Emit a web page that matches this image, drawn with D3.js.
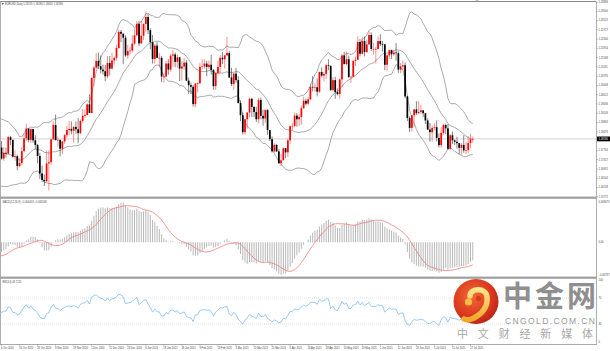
<!DOCTYPE html>
<html>
<head>
<meta charset="utf-8">
<script src="https://cdn.jsdelivr.net/npm/d3@7"></script>
<style>
html, body { margin: 0; padding: 0; background: #fff; }
svg { display: block; font-family: "Liberation Sans", Arial, sans-serif; }
</style>
</head>
<body>
<svg width="610" height="351"></svg>
<script>
// closes before the first visible bar (3 Aug - 5 Oct 2020), only used to warm up the indicators
var preClose = [
  1.1764, 1.1799, 1.1853, 1.1876, 1.1786, 1.1737, 1.1738, 1.1785, 1.1812, 1.1843, 1.1870,
  1.1931, 1.1836, 1.1857, 1.1797, 1.1793, 1.1833, 1.1829, 1.1821, 1.1903, 1.1937,
  1.1912, 1.1853, 1.1851, 1.1838, 1.1817, 1.1778, 1.1802, 1.1812, 1.1845, 1.1864, 1.1845,
  1.1815, 1.1847, 1.1838, 1.1771, 1.1701, 1.1660, 1.1671, 1.1632, 1.1665, 1.1745, 1.1721,
  1.1746, 1.1715, 1.1781
]

// EURUSD daily, 6 Oct 2020 - 28 Jul 2021: [open, high, low, close]
var candles = [
  // Oct
  [1.1782, 1.1809, 1.1732, 1.1736], [1.1736, 1.1784, 1.1727, 1.1760], [1.1760, 1.1782, 1.1740, 1.1757],
  [1.1757, 1.1831, 1.1752, 1.1825], [1.1825, 1.1830, 1.1792, 1.1814], [1.1814, 1.1815, 1.1740, 1.1744],
  [1.1744, 1.1770, 1.1727, 1.1746], [1.1746, 1.1752, 1.1688, 1.1705], [1.1705, 1.1738, 1.1700, 1.1717],
  [1.1717, 1.1785, 1.1708, 1.1767], [1.1767, 1.1841, 1.1762, 1.1820], [1.1820, 1.1881, 1.1810, 1.1861],
  [1.1861, 1.1862, 1.1804, 1.1814], [1.1814, 1.1860, 1.1801, 1.1859], [1.1859, 1.1860, 1.1802, 1.1812],
  [1.1812, 1.1833, 1.1776, 1.1793], [1.1793, 1.1797, 1.1716, 1.1747], [1.1747, 1.1760, 1.1651, 1.1674],
  [1.1674, 1.1707, 1.1639, 1.1647],
  // Nov
  [1.1647, 1.1670, 1.1622, 1.1641], [1.1641, 1.1770, 1.1641, 1.1716], [1.1716, 1.1770, 1.1603, 1.1721],
  [1.1721, 1.1818, 1.1710, 1.1816], [1.1816, 1.1891, 1.1816, 1.1876], [1.1876, 1.1920, 1.1812, 1.1813],
  [1.1813, 1.1828, 1.1786, 1.1814], [1.1814, 1.1815, 1.1745, 1.1777], [1.1777, 1.1808, 1.1755, 1.1808],
  [1.1808, 1.1838, 1.1797, 1.1834], [1.1834, 1.1872, 1.1822, 1.1855], [1.1855, 1.1893, 1.1833, 1.1860],
  [1.1860, 1.1891, 1.1837, 1.1852], [1.1852, 1.1872, 1.1802, 1.1868], [1.1868, 1.1891, 1.1840, 1.1858],
  [1.1858, 1.1905, 1.1800, 1.1842], [1.1842, 1.1900, 1.1838, 1.1893], [1.1893, 1.1942, 1.1885, 1.1914],
  [1.1914, 1.1941, 1.1906, 1.1918], [1.1918, 1.1966, 1.1915, 1.1962], [1.1962, 1.2004, 1.1925, 1.1926],
  // Dec
  [1.1926, 1.2077, 1.1924, 1.2072], [1.2072, 1.2122, 1.2040, 1.2115], [1.2115, 1.2176, 1.2111, 1.2143],
  [1.2143, 1.2178, 1.2109, 1.2121], [1.2121, 1.2166, 1.2091, 1.2107], [1.2107, 1.2128, 1.2086, 1.2100],
  [1.2100, 1.2126, 1.2058, 1.2079], [1.2079, 1.2163, 1.2071, 1.2134], [1.2134, 1.2163, 1.2082, 1.2111],
  [1.2111, 1.2177, 1.2108, 1.2145], [1.2145, 1.2160, 1.2127, 1.2156], [1.2156, 1.2211, 1.2145, 1.2197],
  [1.2197, 1.2273, 1.2192, 1.2264], [1.2264, 1.2272, 1.2221, 1.2256], [1.2256, 1.2260, 1.2130, 1.2240],
  [1.2240, 1.2250, 1.2160, 1.2166], [1.2166, 1.2210, 1.2153, 1.2184], [1.2184, 1.2200, 1.2168, 1.2186],
  [1.2186, 1.2250, 1.2178, 1.2215], [1.2215, 1.2276, 1.2208, 1.2250], [1.2250, 1.2310, 1.2245, 1.2297],
  [1.2297, 1.2310, 1.2205, 1.2216],
  // Jan
  [1.2216, 1.2309, 1.2215, 1.2248], [1.2248, 1.2300, 1.2230, 1.2297], [1.2297, 1.2349, 1.2265, 1.2326],
  [1.2326, 1.2339, 1.2255, 1.2271], [1.2271, 1.2279, 1.2192, 1.2221], [1.2221, 1.2251, 1.2132, 1.2151],
  [1.2151, 1.2214, 1.2132, 1.2207], [1.2207, 1.2222, 1.2154, 1.2156], [1.2156, 1.2176, 1.2118, 1.2156],
  [1.2156, 1.2164, 1.2054, 1.2078], [1.2078, 1.2092, 1.2053, 1.2078], [1.2078, 1.2144, 1.2076, 1.2132],
  [1.2132, 1.2150, 1.2086, 1.2107], [1.2107, 1.2173, 1.2098, 1.2165], [1.2165, 1.2189, 1.2119, 1.2170],
  [1.2170, 1.2178, 1.2117, 1.2139], [1.2139, 1.2169, 1.2115, 1.2158], [1.2158, 1.2160, 1.2059, 1.2111],
  [1.2111, 1.2143, 1.2061, 1.2120], [1.2120, 1.2155, 1.2106, 1.2136],
  // Feb
  [1.2136, 1.2147, 1.2058, 1.2061], [1.2061, 1.2074, 1.2006, 1.2042], [1.2042, 1.2053, 1.2005, 1.2035],
  [1.2035, 1.2043, 1.1952, 1.1963], [1.1963, 1.2051, 1.1950, 1.2049], [1.2049, 1.2054, 1.2012, 1.2050],
  [1.2050, 1.2134, 1.2046, 1.2118], [1.2118, 1.2150, 1.2108, 1.2120], [1.2120, 1.2150, 1.2111, 1.2132],
  [1.2132, 1.2144, 1.2079, 1.2118], [1.2118, 1.2145, 1.2108, 1.2127], [1.2127, 1.2169, 1.2086, 1.2105],
  [1.2105, 1.2109, 1.2023, 1.2038], [1.2038, 1.2093, 1.2022, 1.2093], [1.2093, 1.2144, 1.2086, 1.2118],
  [1.2118, 1.2168, 1.2091, 1.2156], [1.2156, 1.2180, 1.2130, 1.2150], [1.2150, 1.2168, 1.2111, 1.2166],
  [1.2166, 1.2243, 1.2165, 1.2176], [1.2176, 1.2184, 1.2072, 1.2074],
  // Mar
  [1.2074, 1.2114, 1.2038, 1.2047], [1.2047, 1.2093, 1.2023, 1.2090], [1.2090, 1.2114, 1.2052, 1.2063],
  [1.2063, 1.2079, 1.1965, 1.1968], [1.1968, 1.1979, 1.1892, 1.1917], [1.1917, 1.1929, 1.1836, 1.1846],
  [1.1846, 1.1901, 1.1835, 1.1900], [1.1900, 1.1929, 1.1861, 1.1928], [1.1928, 1.1990, 1.1908, 1.1985],
  [1.1985, 1.1989, 1.1910, 1.1951], [1.1951, 1.1955, 1.1908, 1.1930], [1.1930, 1.1952, 1.1888, 1.1900],
  [1.1900, 1.1989, 1.1883, 1.1980], [1.1980, 1.1990, 1.1900, 1.1914], [1.1914, 1.1940, 1.1873, 1.1903],
  [1.1903, 1.1942, 1.1884, 1.1938], [1.1938, 1.1942, 1.1835, 1.1855], [1.1855, 1.1855, 1.1809, 1.1817],
  [1.1817, 1.1829, 1.1761, 1.1766], [1.1766, 1.1800, 1.1762, 1.1793], [1.1793, 1.1797, 1.1763, 1.1766],
  [1.1766, 1.1775, 1.1713, 1.1717], [1.1717, 1.1755, 1.1704, 1.1729],
  // Apr
  [1.1729, 1.1782, 1.1729, 1.1779], [1.1779, 1.1780, 1.1738, 1.1762], [1.1762, 1.1820, 1.1743, 1.1812],
  [1.1812, 1.1874, 1.1798, 1.1871], [1.1871, 1.1885, 1.1853, 1.1872], [1.1872, 1.1928, 1.1866, 1.1915],
  [1.1915, 1.1926, 1.1869, 1.1900], [1.1900, 1.1922, 1.1872, 1.1910], [1.1910, 1.1957, 1.1877, 1.1946],
  [1.1946, 1.1994, 1.1943, 1.1977], [1.1977, 1.1986, 1.1957, 1.1965], [1.1965, 1.1993, 1.1958, 1.1983],
  [1.1983, 1.2048, 1.1980, 1.2035], [1.2035, 1.2080, 1.2016, 1.2033], [1.2033, 1.2050, 1.2015, 1.2033],
  [1.2033, 1.2070, 1.1995, 1.2015], [1.2015, 1.2098, 1.2009, 1.2097], [1.2097, 1.2116, 1.2074, 1.2082],
  [1.2082, 1.2095, 1.2057, 1.2089], [1.2089, 1.2132, 1.2068, 1.2125], [1.2125, 1.2150, 1.2104, 1.2122],
  [1.2122, 1.2125, 1.2017, 1.2022],
  // May
  [1.2022, 1.2075, 1.2015, 1.2063], [1.2063, 1.2077, 1.1985, 1.2013], [1.2013, 1.2029, 1.1999, 1.2005],
  [1.2005, 1.2071, 1.1985, 1.2066], [1.2066, 1.2172, 1.2034, 1.2165], [1.2165, 1.2181, 1.2128, 1.2130],
  [1.2130, 1.2182, 1.2124, 1.2150], [1.2150, 1.2165, 1.2072, 1.2076], [1.2076, 1.2082, 1.2052, 1.2077],
  [1.2077, 1.2147, 1.2075, 1.2143], [1.2143, 1.2161, 1.2122, 1.2148], [1.2148, 1.2245, 1.2148, 1.2222],
  [1.2222, 1.2234, 1.2162, 1.2173], [1.2173, 1.2244, 1.2170, 1.2226], [1.2226, 1.2245, 1.2162, 1.2180],
  [1.2180, 1.2232, 1.2176, 1.2212], [1.2212, 1.2266, 1.2210, 1.2251], [1.2251, 1.2262, 1.2185, 1.2193],
  [1.2193, 1.2218, 1.2170, 1.2193], [1.2193, 1.2202, 1.2133, 1.2193], [1.2193, 1.2244, 1.2190, 1.2226],
  // Jun
  [1.2226, 1.2254, 1.2205, 1.2213], [1.2213, 1.2226, 1.2182, 1.2212], [1.2212, 1.2214, 1.2104, 1.2127],
  [1.2127, 1.2170, 1.2102, 1.2166], [1.2166, 1.2190, 1.2152, 1.2188], [1.2188, 1.2190, 1.2151, 1.2171],
  [1.2171, 1.2190, 1.2164, 1.2178], [1.2178, 1.2218, 1.2144, 1.2175], [1.2175, 1.2183, 1.2093, 1.2107],
  [1.2107, 1.2134, 1.2092, 1.2120], [1.2120, 1.2145, 1.2105, 1.2125], [1.2125, 1.2137, 1.1987, 1.1995],
  [1.1995, 1.1998, 1.1892, 1.1905], [1.1905, 1.1912, 1.1847, 1.1864], [1.1864, 1.1917, 1.1848, 1.1916],
  [1.1916, 1.1941, 1.1870, 1.1941], [1.1941, 1.1975, 1.1917, 1.1925], [1.1925, 1.1975, 1.1924, 1.1930],
  [1.1930, 1.1960, 1.1923, 1.1937], [1.1937, 1.1938, 1.1910, 1.1925], [1.1925, 1.1925, 1.1880, 1.1895],
  [1.1895, 1.1904, 1.1856, 1.1857],
  // Jul
  [1.1857, 1.1885, 1.1807, 1.1846], [1.1846, 1.1874, 1.1806, 1.1864], [1.1864, 1.1883, 1.1853, 1.1867],
  [1.1867, 1.1895, 1.1807, 1.1822], [1.1822, 1.1841, 1.1782, 1.1792], [1.1792, 1.1868, 1.1781, 1.1843],
  [1.1843, 1.1880, 1.1835, 1.1876], [1.1876, 1.1881, 1.1838, 1.1862], [1.1862, 1.1880, 1.1772, 1.1777],
  [1.1777, 1.1839, 1.1772, 1.1833], [1.1833, 1.1849, 1.1797, 1.1812], [1.1812, 1.1816, 1.1792, 1.1806],
  [1.1806, 1.1827, 1.1777, 1.1800], [1.1800, 1.1801, 1.1755, 1.1781], [1.1781, 1.1800, 1.1752, 1.1793],
  [1.1793, 1.1833, 1.1760, 1.1770], [1.1770, 1.1805, 1.1755, 1.1771], [1.1771, 1.1829, 1.1760, 1.1801],
  [1.1801, 1.1840, 1.1780, 1.1817], [1.1817, 1.1828, 1.1802, 1.1818]
]

var holidays = ["2020-12-25", "2021-01-01"]

var dateTicks = ["6 Oct 2020", "16 Oct 2020", "28 Oct 2020", "9 Nov 2020", "19 Nov 2020",
  "1 Dec 2020", "11 Dec 2020", "23 Dec 2020", "6 Jan 2021", "18 Jan 2021", "28 Jan 2021",
  "9 Feb 2021", "19 Feb 2021", "3 Mar 2021", "15 Mar 2021", "25 Mar 2021", "6 Apr 2021",
  "16 Apr 2021", "28 Apr 2021", "10 May 2021", "20 May 2021", "1 Jun 2021", "11 Jun 2021",
  "23 Jun 2021", "5 Jul 2021", "15 Jul 2021", "27 Jul 2021"]

var priceTicks = [1.23886, 1.23500, 1.23113, 1.22727, 1.22340, 1.21954, 1.21568, 1.21181,
  1.20795, 1.20408, 1.20022, 1.19636, 1.19249, 1.18863, 1.18476, 1.17704, 1.17317,
  1.16931, 1.16544, 1.16158, 1.15772]

var rsiTicks = [100, 70, 30, 0]
var rsiLevels = [70, 30]


var svg = d3.select("svg")
var plotRight = 596
var axisColor = "#444"

// trading calendar for the visible candles
var dayKey = d3.timeFormat("%Y-%m-%d")
var dates = d3.timeDays(new Date(2020, 9, 6), new Date(2021, 6, 29))
  .filter(d => d.getDay() % 6 != 0 && holidays.indexOf(dayKey(d)) < 0)
var dateLabel = d3.timeFormat("%-d %b %Y")
var dateNames = dates.map(dateLabel)

// scales
var x = d3.scaleLinear().domain([0, 208]).range([1.5, 470.5])
var yPrice = d3.scaleLinear().domain([1.1603, 1.2349]).range([190.5, 11.5])
var yRsi = d3.scaleLinear().domain([0, 100]).range([343.5, 278.5])

// ---- indicators, computed over the warm-up closes + visible closes
var closes = preClose.concat(candles.map(d => d[3]))
var off = preClose.length

var bands = []
for (var i = off - 1; i < closes.length; i++) {
  var win = closes.slice(i - 19, i + 1)
  var m = d3.mean(win)
  var sd = Math.sqrt(d3.mean(win, v => (v - m) * (v - m)))
  bands.push({i: i - off, mid: m, up: m + 2 * sd, lo: m - 2 * sd})
}

function ema(arr, n) {
  var k = 2 / (n + 1), out = [arr[0]]
  for (var j = 1; j < arr.length; j++) out.push(arr[j] * k + out[j - 1] * (1 - k))
  return out
}
var e12 = ema(closes, 12), e26 = ema(closes, 26)
var macdMain = closes.map((c, j) => e12[j] - e26[j])
var macdRows = []
for (i = off - 1; i < closes.length; i++) {
  macdRows.push({i: i - off, main: macdMain[i], signal: d3.mean(macdMain.slice(i - 8, i + 1))})
}

var rsiVals = new Array(closes.length).fill(null)
var gain = 0, loss = 0, n = 14
for (i = 1; i <= n; i++) {
  var dd = closes[i] - closes[i - 1]
  if (dd > 0) gain += dd; else loss -= dd
}
gain /= n; loss /= n
rsiVals[n] = 100 - 100 / (1 + gain / loss)
for (i = n + 1; i < closes.length; i++) {
  dd = closes[i] - closes[i - 1]
  gain = (gain * (n - 1) + Math.max(dd, 0)) / n
  loss = (loss * (n - 1) + Math.max(-dd, 0)) / n
  rsiVals[i] = loss == 0 ? 100 : 100 - 100 / (1 + gain / loss)
}
var rsiRows = []
for (i = off - 1; i < closes.length; i++) rsiRows.push({i: i - off, v: rsiVals[i]})

// MACD window follows the visible min / max
var macdVis = macdRows.filter(d => d.i >= 0)
var mMin = d3.min(macdVis, d => Math.min(d.main, d.signal))
var mMax = d3.max(macdVis, d => Math.max(d.main, d.signal))
var yMacd = d3.scaleLinear().domain([mMin, mMax]).range([275, 202.5])

// ---- clip regions for the three windows
var defs = svg.append("defs")
function clip(id, y0, y1) {
  defs.append("clipPath").attr("id", id).append("rect")
    .attr("x", 0).attr("y", y0).attr("width", plotRight).attr("height", y1 - y0)
}
clip("clipMain", 2, 196.5)
clip("clipMacd", 199, 276.5)
clip("clipRsi", 279, 344)

// ---- main window
var gMain = svg.append("g").attr("clip-path", "url(#clipMain)")

var last = candles[candles.length - 1]
gMain.append("line")
  .attr("x1", 0).attr("x2", plotRight)
  .attr("y1", yPrice(last[3])).attr("y2", yPrice(last[3]))
  .attr("stroke", "#c8c8c8").attr("stroke-width", 0.8)

var bandLine = key => d3.line().x(d => x(d.i)).y(d => yPrice(d[key]))
;["up", "mid", "lo"].forEach(function(key) {
  gMain.append("path")
    .datum(bands)
    .attr("d", bandLine(key))
    .attr("fill", "none")
    .attr("stroke", "#8e8e8e")
    .attr("stroke-width", 0.75)
})

var bull = d => d[3] >= d[0]
gMain.selectAll(".wick").data(candles).enter().append("line")
  .attr("class", "wick")
  .attr("x1", (d, i) => x(i)).attr("x2", (d, i) => x(i))
  .attr("y1", d => yPrice(d[1])).attr("y2", d => yPrice(d[2]))
  .attr("stroke", d => bull(d) ? "#ff3030" : "#202020")
  .attr("stroke-width", 0.55)

gMain.selectAll(".body").data(candles).enter().append("rect")
  .attr("class", "body")
  .attr("x", (d, i) => x(i) - 0.85)
  .attr("width", 1.7)
  .attr("y", d => yPrice(Math.max(d[0], d[3])))
  .attr("height", d => Math.max(0.6, Math.abs(yPrice(d[0]) - yPrice(d[3]))))
  .attr("fill", d => bull(d) ? "#ff0000" : "#000")

// ---- MACD window
var gMacd = svg.append("g").attr("clip-path", "url(#clipMacd)")
gMacd.selectAll("rect").data(macdRows).enter().append("rect")
  .attr("x", d => x(d.i) - 0.5)
  .attr("width", 1)
  .attr("y", d => Math.min(yMacd(d.main), yMacd(0)))
  .attr("height", d => Math.abs(yMacd(d.main) - yMacd(0)))
  .attr("fill", "#b8b8b8")
gMacd.append("path")
  .datum(macdRows)
  .attr("d", d3.line().x(d => x(d.i)).y(d => yMacd(d.signal)))
  .attr("fill", "none")
  .attr("stroke", "#f07c7c")
  .attr("stroke-width", 0.8)

// ---- RSI window
var gRsi = svg.append("g").attr("clip-path", "url(#clipRsi)")
gRsi.selectAll(".lvl").data(rsiLevels).enter().append("line")
  .attr("x1", 0).attr("x2", plotRight)
  .attr("y1", d => yRsi(d)).attr("y2", d => yRsi(d))
  .attr("stroke", "#c8c8c8").attr("stroke-width", 0.5)
  .attr("stroke-dasharray", "1,1")
gRsi.append("path")
  .datum(rsiRows)
  .attr("d", d3.line().x(d => x(d.i)).y(d => yRsi(d.v)))
  .attr("fill", "none")
  .attr("stroke", "#7fbcf5")
  .attr("stroke-width", 0.8)

// ---- frame and separators
var frame = svg.append("g")
frame.append("line").attr("x1", 0).attr("x2", plotRight).attr("y1", 1.5).attr("y2", 1.5)
  .attr("stroke", "#7a7a7a").attr("stroke-width", 0.9)
frame.append("line").attr("x1", 0.5).attr("x2", 0.5).attr("y1", 1.5).attr("y2", 344.5)
  .attr("stroke", "#9a9a9a").attr("stroke-width", 0.8)
frame.append("line").attr("x1", plotRight + 0.5).attr("x2", plotRight + 0.5).attr("y1", 1.5).attr("y2", 344.5)
  .attr("stroke", "#9a9a9a").attr("stroke-width", 0.8)
;[196.6, 276.6].forEach(function(yy) {
  frame.append("rect").attr("x", 0).attr("y", yy).attr("width", plotRight + 1).attr("height", 2.2)
    .attr("fill", "#a0a0a0")
})
frame.append("line").attr("x1", 0).attr("x2", plotRight + 1).attr("y1", 344.5).attr("y2", 344.5)
  .attr("stroke", "#a0a0a0").attr("stroke-width", 0.9)
// chart shift marker
frame.append("path").attr("d", "M475.5,0.5 L478.5,0.5 L477,2.6 Z").attr("fill", "#8a8a8a")

// ---- small texts
var fmt5 = d3.format(".5f")
var txt = svg.append("g").attr("font-size", 2.6).attr("fill", axisColor)

txt.append("path").attr("d", "M1.5,3 L4,3 L2.75,5 Z").attr("fill", "#555")
txt.append("text").attr("x", 5).attr("y", 5.3)
  .text("EURUSD,Daily  " + last.map(fmt5).join(" "))

var lastMacd = macdRows[macdRows.length - 1]
txt.append("text").attr("x", 2.5).attr("y", 203)
  .text("MACD(12,26,9) " + d3.format(".6f")(lastMacd.main) + " " + d3.format(".6f")(lastMacd.signal))
txt.append("text").attr("x", 2.5).attr("y", 282.6)
  .text("RSI(14) " + d3.format(".4f")(rsiVals[rsiVals.length - 1]))

// price axis
var axisG = txt.append("g")
axisG.selectAll(".pt").data(priceTicks).enter().append("text")
  .attr("x", 598.5).attr("y", d => yPrice(d) + 0.9)
  .text(d => fmt5(d))
axisG.selectAll(".pk").data(priceTicks).enter().append("line")
  .attr("x1", plotRight + 0.5).attr("x2", plotRight + 2)
  .attr("y1", d => yPrice(d)).attr("y2", d => yPrice(d))
  .attr("stroke", "#666").attr("stroke-width", 0.4)

// current price box
var yl = yPrice(last[3])
svg.append("rect").attr("x", plotRight + 1).attr("y", yl - 2.4).attr("width", 13).attr("height", 4.8)
  .attr("fill", "#000")
svg.append("text").attr("x", 598.5).attr("y", yl + 0.9).attr("font-size", 2.6).attr("fill", "#fff")
  .text(fmt5(last[3]))

// MACD axis
var macdLabels = [[mMax, d3.format(".6f")(mMax)], [0, "0.00"], [mMin, d3.format(".6f")(mMin)]]
axisG.selectAll(".mt").data(macdLabels).enter().append("text")
  .attr("x", 598.5).attr("y", d => yMacd(d[0]) + 0.9)
  .text(d => d[1])

// RSI axis
axisG.selectAll(".rt").data(rsiTicks).enter().append("text")
  .attr("x", 598.5).attr("y", d => Math.min(342.5, Math.max(281, yRsi(d) + 0.9)))
  .text(d => d)

// date axis
axisG.selectAll(".dt").data(dateTicks).enter().append("text")
  .attr("x", d => x(dateNames.indexOf(d)) - 0.5)
  .attr("y", 349.2)
  .text(d => d)
axisG.selectAll(".dk").data(dateTicks).enter().append("line")
  .attr("x1", d => x(dateNames.indexOf(d))).attr("x2", d => x(dateNames.indexOf(d)))
  .attr("y1", 344.5).attr("y2", 346)
  .attr("stroke", "#777").attr("stroke-width", 0.4)

// ---- watermark
var grad = defs.append("radialGradient").attr("id", "logoRed").attr("cx", "42%").attr("cy", "38%").attr("r", "65%")
grad.append("stop").attr("offset", "0%").attr("stop-color", "#f26b35")
grad.append("stop").attr("offset", "65%").attr("stop-color", "#dc3a1e")
grad.append("stop").attr("offset", "100%").attr("stop-color", "#b9231a")
var gold = defs.append("linearGradient").attr("id", "logoGold").attr("x1", 0).attr("y1", 0).attr("x2", 0).attr("y2", 1)
gold.append("stop").attr("offset", "0%").attr("stop-color", "#ffe58a")
gold.append("stop").attr("offset", "100%").attr("stop-color", "#f3a72a")

var logo = svg.append("g")
logo.append("circle").attr("cx", 476).attr("cy", 301.5).attr("r", 22.5).attr("fill", "url(#logoRed)")
logo.append("path")
  .attr("d", "M470,296 C470,288 486,287 487,297 C488,306 483,313 474,318 C470,320 466,320 464,319")
  .attr("fill", "none").attr("stroke", "url(#logoGold)").attr("stroke-width", 5.5)
  .attr("stroke-linecap", "round")
logo.append("circle").attr("cx", 468.5).attr("cy", 302).attr("r", 3.6).attr("fill", "#f6bf45")
logo.append("circle").attr("cx", 478.5).attr("cy", 298.5).attr("r", 2.6).attr("fill", "#d83a1e")

logo.append("text").attr("x", 503).attr("y", 307)
  .attr("font-family", "'Noto Sans CJK SC', sans-serif").attr("font-weight", "bold")
  .attr("font-size", 29).attr("fill", "#8f8f8f")
  .attr("textLength", 93).attr("lengthAdjust", "spacing")
  .text("中金网")
logo.append("text").attr("x", 505).attr("y", 324)
  .attr("font-family", "'Liberation Sans', Arial, sans-serif")
  .attr("font-size", 8.5).attr("fill", "#9a9a9a")
  .attr("textLength", 90).attr("lengthAdjust", "spacing")
  .text("CNGOLD.COM.CN")
logo.append("text").attr("x", 457).attr("y", 337.8)
  .attr("font-family", "'Noto Sans CJK SC', sans-serif")
  .attr("font-size", 11).attr("fill", "#a8a8a8")
  .attr("textLength", 136).attr("lengthAdjust", "spacing")
  .text("中文财经新媒体")
</script>
</body>
</html>
